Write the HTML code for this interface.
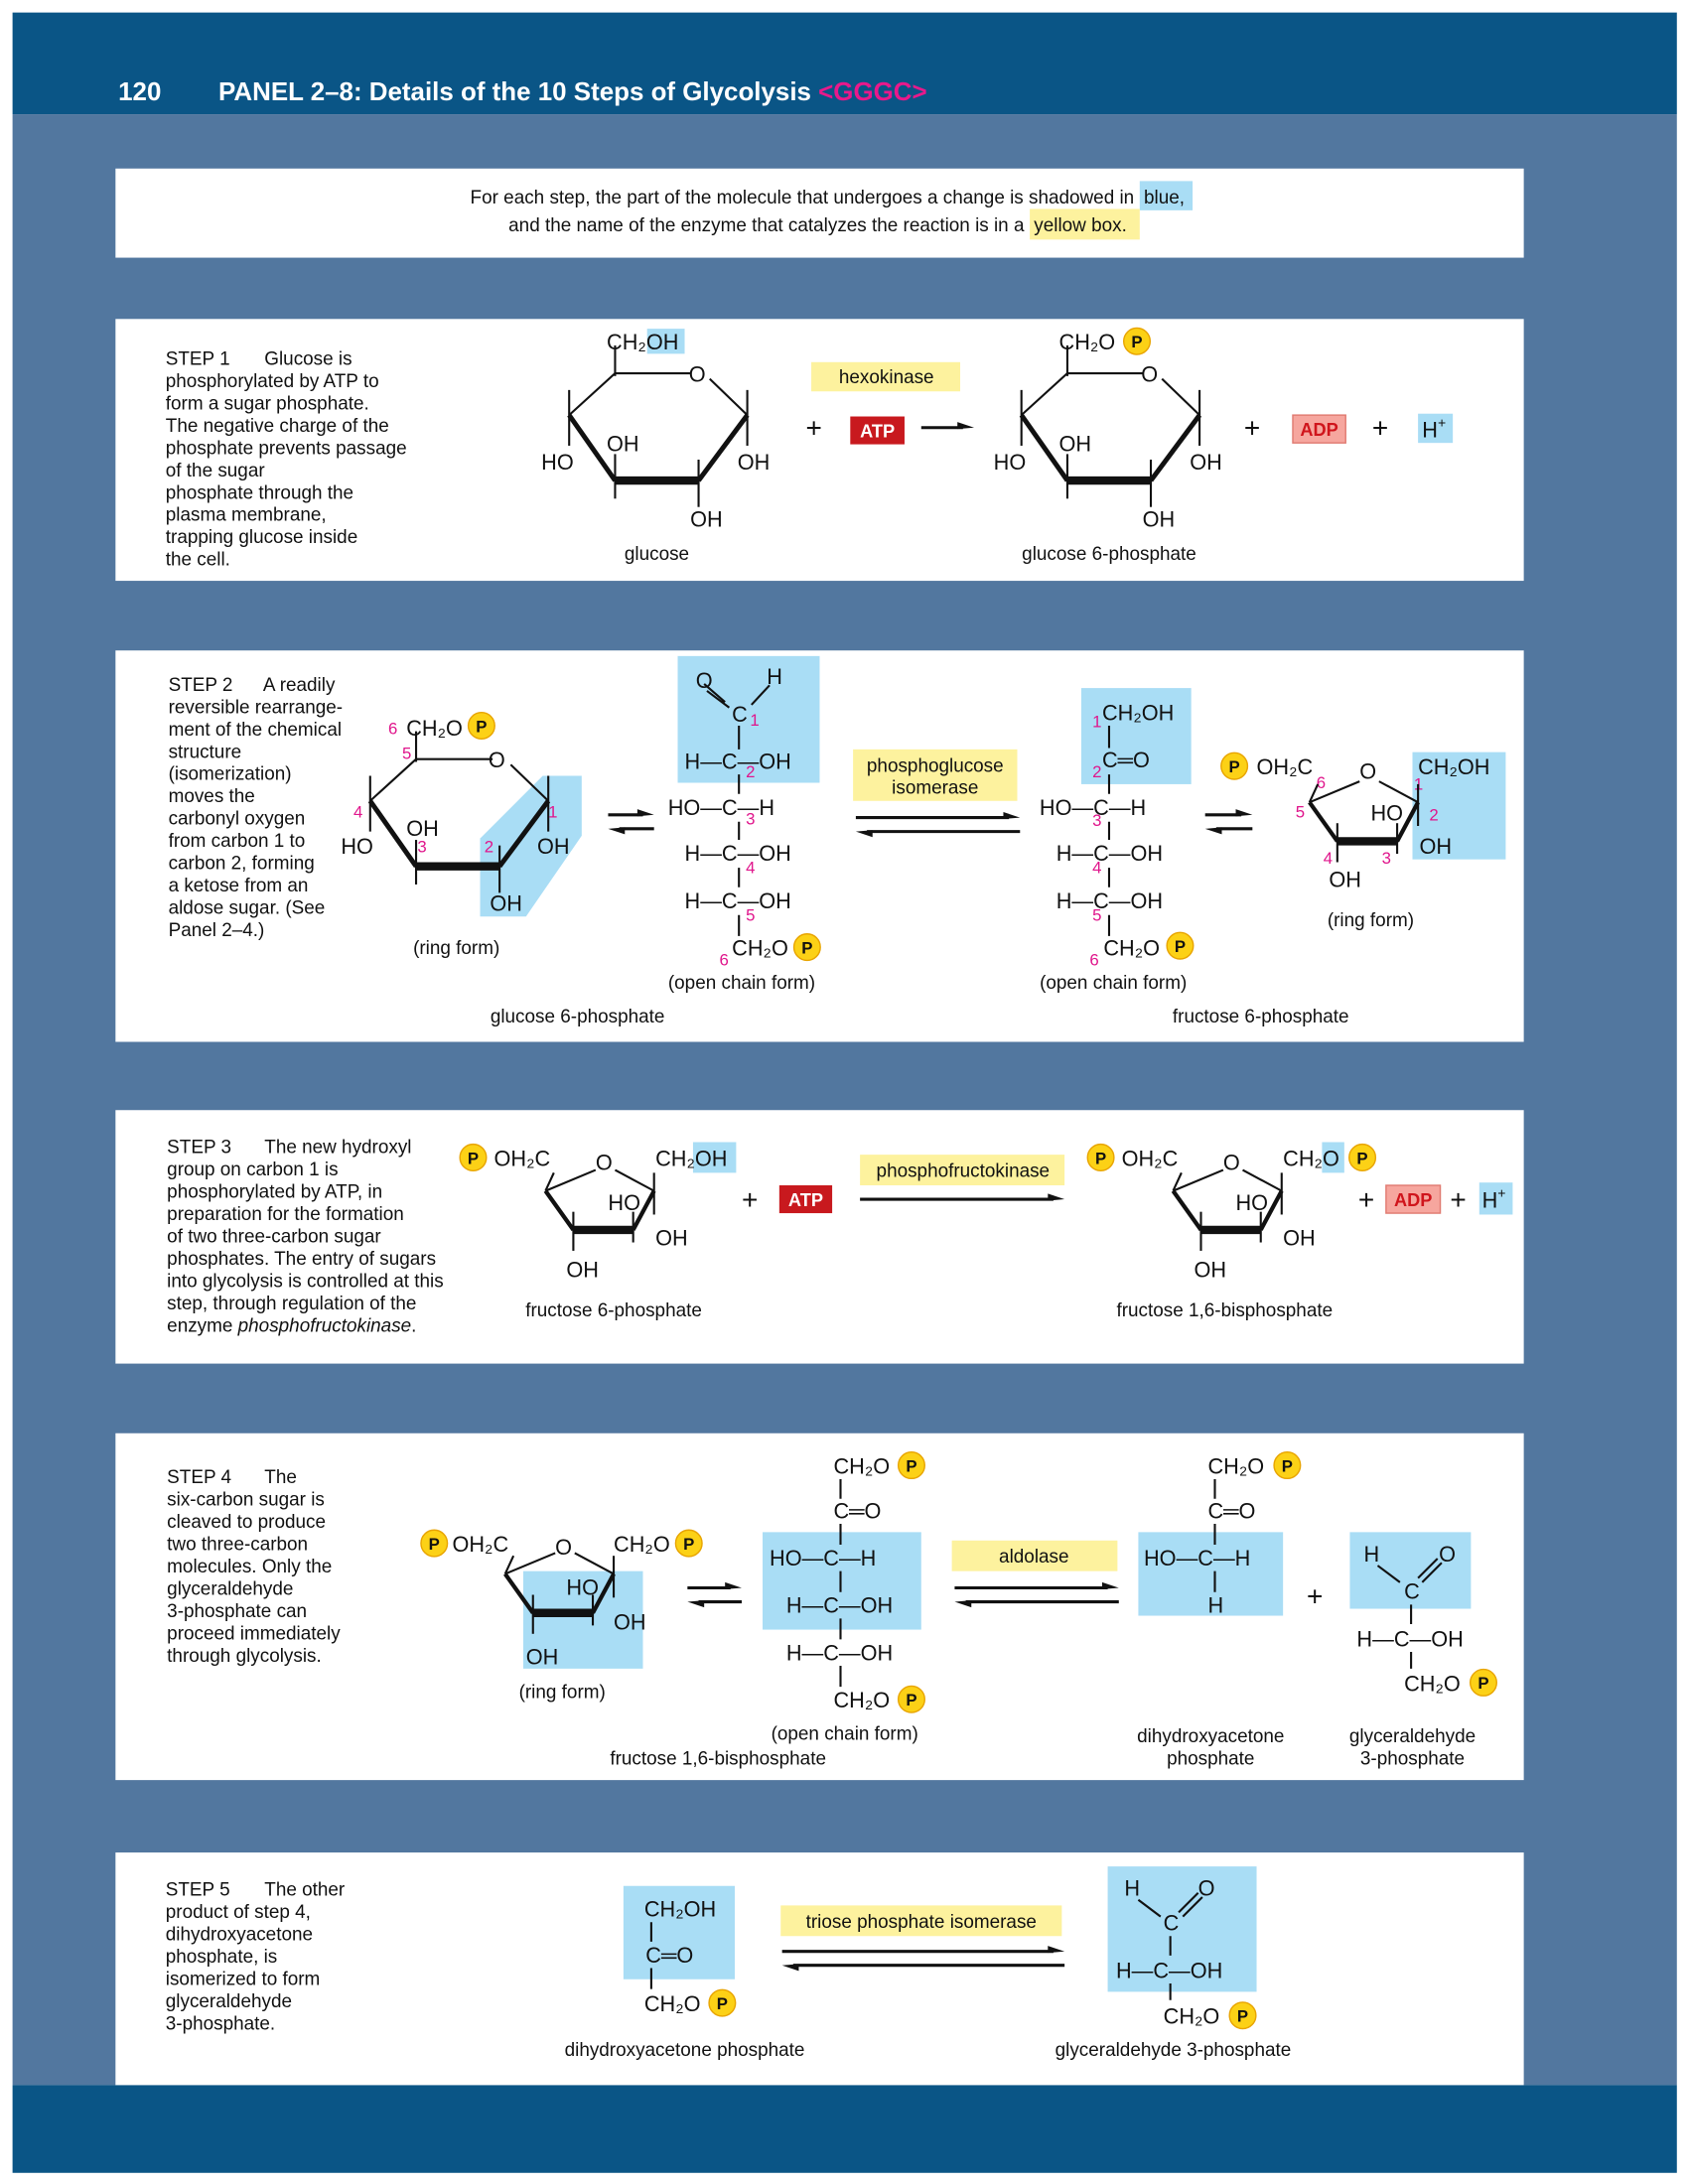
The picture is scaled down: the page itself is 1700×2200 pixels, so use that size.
<!DOCTYPE html>
<html><head><meta charset="utf-8">
<style>
html,body{margin:0;padding:0;background:#fff;}
svg{display:block;}
text{font-family:"Liberation Sans",sans-serif;}
.b{font-size:13.5px;fill:#111;}
.c{font-size:15.5px;fill:#111;}
.n{font-size:12px;fill:#e0168c;}
</style></head>
<body>
<svg id="s" width="1700" height="2200" viewBox="0 0 1213 1568" preserveAspectRatio="none" xmlns="http://www.w3.org/2000/svg">
<rect x="0" y="0" width="1213" height="1568" fill="#fff"/>
<rect x="9" y="9" width="1196" height="73" fill="#0a5586"/>
<rect x="9" y="82" width="1196" height="1415" fill="#52779f"/>
<rect x="9" y="1497" width="1196" height="63" fill="#0a5586"/>
<text x="85" y="72" font-size="18.5" font-weight="bold" fill="#fff">120</text>
<text x="157" y="72" font-size="18.5" font-weight="bold" fill="#fff">PANEL 2–8: Details of the 10 Steps of Glycolysis <tspan fill="#e8198b">&lt;GGGC&gt;</tspan></text>

<!-- intro -->
<rect x="83" y="121" width="1012" height="64" fill="#fff"/>
<rect x="819" y="130" width="38" height="21" fill="#a9ddf5"/>
<rect x="740" y="150" width="79" height="22" fill="#fdf29e"/>
<text x="815" y="146" class="b" text-anchor="end">For each step, the part of the molecule that undergoes a change is shadowed in</text>
<text x="822" y="146" class="b">blue,</text>
<text x="736" y="166" class="b" text-anchor="end">and the name of the enzyme that catalyzes the reaction is in a</text>
<text x="743" y="166" class="b">yellow box.</text>

<!-- step boxes -->
<rect x="83" y="229" width="1012" height="188" fill="#fff"/>
<rect x="83" y="467" width="1012" height="281" fill="#fff"/>
<rect x="83" y="797" width="1012" height="182" fill="#fff"/>
<rect x="83" y="1029" width="1012" height="249" fill="#fff"/>
<rect x="83" y="1330" width="1012" height="167" fill="#fff"/>

<g id="hl">
<rect x="465" y="236" width="27" height="18" fill="#a9ddf5"/>
<rect x="583" y="260" width="107" height="21" fill="#fdf29e"/>
<rect x="1019" y="297" width="25" height="21" fill="#a9ddf5"/>
<polygon points="345,658 345,602 390,557 418,557 418,600 378,658" fill="#a9ddf5"/>
<rect x="487" y="471" width="102" height="91" fill="#a9ddf5"/>
<rect x="613" y="538" width="118" height="37" fill="#fdf29e"/>
<rect x="777" y="494" width="79" height="69" fill="#a9ddf5"/>
<rect x="1015" y="540" width="67" height="77" fill="#a9ddf5"/>
<rect x="498" y="820" width="31" height="22" fill="#a9ddf5"/>
<rect x="618" y="829" width="147" height="22" fill="#fdf29e"/>
<rect x="950" y="820" width="16" height="22" fill="#a9ddf5"/>
<rect x="1063" y="849" width="24" height="23" fill="#a9ddf5"/>
<rect x="376" y="1128" width="86" height="70" fill="#a9ddf5"/>
<rect x="548" y="1100" width="114" height="70" fill="#a9ddf5"/>
<rect x="684" y="1106" width="119" height="22" fill="#fdf29e"/>
<rect x="818" y="1100" width="104" height="60" fill="#a9ddf5"/>
<rect x="970" y="1100" width="87" height="55" fill="#a9ddf5"/>
<rect x="448" y="1354" width="80" height="67" fill="#a9ddf5"/>
<rect x="561" y="1368" width="202" height="22" fill="#fdf29e"/>
<rect x="796" y="1340" width="107" height="90" fill="#a9ddf5"/>
</g>

<g><rect x="611" y="299" width="39" height="20" fill="#c8191e"/><text x="630.5" y="314" font-size="13" font-weight="bold" fill="#fff" text-anchor="middle">ATP</text></g>
<g><rect x="929" y="298" width="38" height="20" fill="#f6a69e" stroke="#e07a70"/><text x="948" y="313" font-size="13" font-weight="bold" fill="#d0151c" text-anchor="middle">ADP</text></g>
<g><rect x="560" y="851" width="38" height="20" fill="#c8191e"/><text x="579" y="866" font-size="13" font-weight="bold" fill="#fff" text-anchor="middle">ATP</text></g>
<g><rect x="996" y="851" width="39" height="20" fill="#f6a69e" stroke="#e07a70"/><text x="1015.5" y="866" font-size="13" font-weight="bold" fill="#d0151c" text-anchor="middle">ADP</text></g>

<g>
<text x="119" y="262" class="b">STEP 1<tspan x="190">Glucose is</tspan></text>
<text x="119" y="278" class="b">phosphorylated by ATP to</text>
<text x="119" y="294" class="b">form a sugar phosphate.</text>
<text x="119" y="310" class="b">The negative charge of the</text>
<text x="119" y="326" class="b">phosphate prevents passage</text>
<text x="119" y="342" class="b">of the sugar</text>
<text x="119" y="358" class="b">phosphate through the</text>
<text x="119" y="374" class="b">plasma membrane,</text>
<text x="119" y="390" class="b">trapping glucose inside</text>
<text x="119" y="406" class="b">the cell.</text>
</g>
<g>
<text x="121" y="496" class="b">STEP 2<tspan x="189">A readily</tspan></text>
<text x="121" y="512" class="b">reversible rearrange-</text>
<text x="121" y="528" class="b">ment of the chemical</text>
<text x="121" y="544" class="b">structure</text>
<text x="121" y="560" class="b">(isomerization)</text>
<text x="121" y="576" class="b">moves the</text>
<text x="121" y="592" class="b">carbonyl oxygen</text>
<text x="121" y="608" class="b">from carbon 1 to</text>
<text x="121" y="624" class="b">carbon 2, forming</text>
<text x="121" y="640" class="b">a ketose from an</text>
<text x="121" y="656" class="b">aldose sugar. (See</text>
<text x="121" y="672" class="b">Panel 2–4.)</text>
</g>
<g>
<text x="120" y="828" class="b">STEP 3<tspan x="190">The new hydroxyl</tspan></text>
<text x="120" y="844" class="b">group on carbon 1 is</text>
<text x="120" y="860" class="b">phosphorylated by ATP, in</text>
<text x="120" y="876" class="b">preparation for the formation</text>
<text x="120" y="892" class="b">of two three-carbon sugar</text>
<text x="120" y="908" class="b">phosphates. The entry of sugars</text>
<text x="120" y="924" class="b">into glycolysis is controlled at this</text>
<text x="120" y="940" class="b">step, through regulation of the</text>
<text x="120" y="956" class="b">enzyme <tspan font-style="italic">phosphofructokinase</tspan>.</text>
</g>
<g>
<text x="120" y="1065" class="b">STEP 4<tspan x="190">The</tspan></text>
<text x="120" y="1081" class="b">six-carbon sugar is</text>
<text x="120" y="1097" class="b">cleaved to produce</text>
<text x="120" y="1113" class="b">two three-carbon</text>
<text x="120" y="1129" class="b">molecules. Only the</text>
<text x="120" y="1145" class="b">glyceraldehyde</text>
<text x="120" y="1161" class="b">3-phosphate can</text>
<text x="120" y="1177" class="b">proceed immediately</text>
<text x="120" y="1193" class="b">through glycolysis.</text>
</g>
<g>
<text x="119" y="1361" class="b">STEP 5<tspan x="190">The other</tspan></text>
<text x="119" y="1377" class="b">product of step 4,</text>
<text x="119" y="1393" class="b">dihydroxyacetone</text>
<text x="119" y="1409" class="b">phosphate, is</text>
<text x="119" y="1425" class="b">isomerized to form</text>
<text x="119" y="1441" class="b">glyceraldehyde</text>
<text x="119" y="1457" class="b">3-phosphate.</text>
</g>

<g text-anchor="middle">
<text x="637" y="275" class="b" text-anchor="middle">hexokinase</text>
<text x="672" y="554" class="b" text-anchor="middle">phosphoglucose</text>
<text x="672" y="570" class="b" text-anchor="middle">isomerase</text>
<text x="692" y="845" class="b" text-anchor="middle">phosphofructokinase</text>
<text x="743" y="1122" class="b" text-anchor="middle">aldolase</text>
<text x="662" y="1384" class="b" text-anchor="middle">triose phosphate isomerase</text>
<text x="472" y="402" class="b" text-anchor="middle">glucose</text>
<text x="797" y="402" class="b" text-anchor="middle">glucose 6-phosphate</text>
<text x="328" y="685" class="b" text-anchor="middle">(ring form)</text>
<text x="533" y="710" class="b" text-anchor="middle">(open chain form)</text>
<text x="800" y="710" class="b" text-anchor="middle">(open chain form)</text>
<text x="985" y="665" class="b" text-anchor="middle">(ring form)</text>
<text x="415" y="734" class="b" text-anchor="middle">glucose 6-phosphate</text>
<text x="906" y="734" class="b" text-anchor="middle">fructose 6-phosphate</text>
<text x="441" y="945" class="b" text-anchor="middle">fructose 6-phosphate</text>
<text x="880" y="945" class="b" text-anchor="middle">fructose 1,6-bisphosphate</text>
<text x="404" y="1219" class="b" text-anchor="middle">(ring form)</text>
<text x="607" y="1249" class="b" text-anchor="middle">(open chain form)</text>
<text x="516" y="1267" class="b" text-anchor="middle">fructose 1,6-bisphosphate</text>
<text x="870" y="1251" class="b" text-anchor="middle">dihydroxyacetone</text>
<text x="870" y="1267" class="b" text-anchor="middle">phosphate</text>
<text x="1015" y="1251" class="b" text-anchor="middle">glyceraldehyde</text>
<text x="1015" y="1267" class="b" text-anchor="middle">3-phosphate</text>
<text x="492" y="1476" class="b" text-anchor="middle">dihydroxyacetone phosphate</text>
<text x="843" y="1476" class="b" text-anchor="middle">glyceraldehyde 3-phosphate</text>
</g>

<g font-size="20" fill="#111">
<text x="579" y="314">+</text><text x="894" y="314">+</text><text x="986" y="314">+</text>
<text x="533" y="868">+</text><text x="976" y="868">+</text><text x="1042" y="868">+</text>
<text x="939" y="1153">+</text>
</g>
<g>
<text x="1022" y="314" class="c">H<tspan font-size="10" dy="-7">+</tspan></text>
<text x="1065" y="867" class="c">H<tspan font-size="10" dy="-7">+</tspan></text>
</g>

<g id="chem">
<text x="436" y="251" class="c">CH₂OH</text>
<text x="495" y="274" class="c">O</text>
<text x="389" y="337" class="c">HO</text>
<text x="436" y="324" class="c">OH</text>
<text x="530" y="337" class="c">OH</text>
<text x="496" y="378" class="c">OH</text>
<text x="761" y="251" class="c">CH₂O</text>
<text x="820" y="274" class="c">O</text>
<text x="714" y="337" class="c">HO</text>
<text x="761" y="324" class="c">OH</text>
<text x="855" y="337" class="c">OH</text>
<text x="821" y="378" class="c">OH</text>
<text x="292" y="528" class="c">CH₂O</text>
<text x="351" y="551" class="c">O</text>
<text x="245" y="613" class="c">HO</text>
<text x="292" y="600" class="c">OH</text>
<text x="386" y="613" class="c">OH</text>
<text x="352" y="654" class="c">OH</text>
<text x="279" y="527" class="n">6</text><text x="289" y="545" class="n">5</text><text x="254" y="587" class="n">4</text><text x="300" y="612" class="n">3</text><text x="348" y="612" class="n">2</text><text x="394" y="587" class="n">1</text>
<text x="500" y="494" class="c">O</text><text x="551" y="491" class="c">H</text>
<text x="526" y="518" class="c">C</text>
<text x="492" y="552" class="c">H—C—OH</text>
<text x="480" y="585" class="c">HO—C—H</text>
<text x="492" y="618" class="c">H—C—OH</text>
<text x="492" y="652" class="c">H—C—OH</text>
<text x="526" y="686" class="c">CH₂O</text>
<text x="539" y="521" class="n">1</text><text x="536" y="558" class="n">2</text><text x="536" y="592" class="n">3</text><text x="536" y="627" class="n">4</text><text x="536" y="661" class="n">5</text><text x="517" y="693" class="n">6</text>
<text x="792" y="517" class="c">CH₂OH</text>
<text x="792" y="551" class="c">C═O</text>
<text x="747" y="585" class="c">HO—C—H</text>
<text x="759" y="618" class="c">H—C—OH</text>
<text x="759" y="652" class="c">H—C—OH</text>
<text x="793" y="686" class="c">CH₂O</text>
<text x="785" y="522" class="n">1</text><text x="785" y="558" class="n">2</text><text x="785" y="593" class="n">3</text><text x="785" y="627" class="n">4</text><text x="785" y="661" class="n">5</text><text x="783" y="693" class="n">6</text>
<text x="903" y="556" class="c">OH₂C</text>
<text x="977" y="559" class="c">O</text>
<text x="1019" y="556" class="c">CH₂OH</text>
<text x="985" y="589" class="c">HO</text>
<text x="1020" y="613" class="c">OH</text>
<text x="955" y="637" class="c">OH</text>
<text x="946" y="566" class="n">6</text><text x="931" y="587" class="n">5</text><text x="951" y="620" class="n">4</text><text x="993" y="620" class="n">3</text><text x="1027" y="589" class="n">2</text><text x="1016" y="567" class="n">1</text>
<text x="355" y="837" class="c">OH₂C</text>
<text x="428" y="840" class="c">O</text>
<text x="471" y="837" class="c">CH₂OH</text>
<text x="437" y="869" class="c">HO</text>
<text x="471" y="894" class="c">OH</text>
<text x="407" y="917" class="c">OH</text>
<text x="806" y="837" class="c">OH₂C</text>
<text x="879" y="840" class="c">O</text>
<text x="922" y="837" class="c">CH₂O</text>
<text x="888" y="869" class="c">HO</text>
<text x="922" y="894" class="c">OH</text>
<text x="858" y="917" class="c">OH</text>
<text x="325" y="1114" class="c">OH₂C</text>
<text x="399" y="1116" class="c">O</text>
<text x="441" y="1114" class="c">CH₂O</text>
<text x="407" y="1145" class="c">HO</text>
<text x="441" y="1170" class="c">OH</text>
<text x="378" y="1195" class="c">OH</text>
<text x="599" y="1058" class="c">CH₂O</text>
<text x="599" y="1090" class="c">C═O</text>
<text x="553" y="1124" class="c">HO—C—H</text>
<text x="565" y="1158" class="c">H—C—OH</text>
<text x="565" y="1192" class="c">H—C—OH</text>
<text x="599" y="1226" class="c">CH₂O</text>
<text x="868" y="1058" class="c">CH₂O</text>
<text x="868" y="1090" class="c">C═O</text>
<text x="822" y="1124" class="c">HO—C—H</text>
<text x="868" y="1158" class="c">H</text>
<text x="980" y="1121" class="c">H</text><text x="1034" y="1121" class="c">O</text>
<text x="1009" y="1148" class="c">C</text>
<text x="975" y="1182" class="c">H—C—OH</text>
<text x="1009" y="1214" class="c">CH₂O</text>
<text x="463" y="1376" class="c">CH₂OH</text>
<text x="464" y="1409" class="c">C═O</text>
<text x="463" y="1444" class="c">CH₂O</text>
<text x="808" y="1361" class="c">H</text><text x="861" y="1361" class="c">O</text>
<text x="836" y="1386" class="c">C</text>
<text x="802" y="1420" class="c">H—C—OH</text>
<text x="836" y="1453" class="c">CH₂O</text>
</g>
<g id="bonds" stroke="#111" stroke-width="1.5" fill="none">
<path d="M531,521V538M531,556V570M531,590V603M531,623V637M531,657V672"/>
<path d="M508,496L524,508M540,506L553,492M506,491L521,504"/>
<path d="M797,521V537M797,556V570M797,590V603M797,623V637M797,657V672"/>
<path d="M604,1062V1076M604,1094V1109M604,1128V1143M604,1162V1177M604,1196V1211"/>
<path d="M873,1062V1076M873,1094V1109M873,1128V1143"/>
<path d="M990,1124L1006,1136M1022,1136L1036,1122M1019,1133L1033,1119M1014,1152V1166M1014,1186V1198"/>
<path d="M468,1380V1394M468,1413V1428"/>
<path d="M818,1364L834,1376M850,1376L864,1362M847,1373L861,1359M841,1390V1404M841,1424V1436"/>
</g>
<g id="dyn"></g>
</svg>
<script>
var NS="http://www.w3.org/2000/svg";
var dyn=document.getElementById('dyn');
function mk(tag,attrs){var e=document.createElementNS(NS,tag);for(var k in attrs)e.setAttribute(k,attrs[k]);dyn.appendChild(e);return e;}
function ln(x1,y1,x2,y2,w){var e=mk('line',{x1:x1,y1:y1,x2:x2,y2:y2,stroke:'#111','stroke-width':w||1.5,'stroke-linecap':'butt'});

return e;}
function P(x,y){var c=mk('circle',{cx:x,cy:y,r:9.5,fill:'#fcd116',stroke:'#e8a400','stroke-width':1});


var t=mk('text',{x:x,y:y+4.5,'text-anchor':'middle','font-size':12,'font-weight':'bold',fill:'#111'});


t.textContent='P';}
function pyr(ox,oy){
ln(ox,oy-20,ox,oy+2);ln(ox,oy,ox+55,oy);ln(ox+68,oy+4,ox+95,oy+30);
ln(ox-33,oy+30,ox,oy);ln(ox+95,oy+30,ox+60,oy+77,3.5);ln(ox+60,oy+77,ox,oy+77,6);ln(ox,oy+77,ox-33,oy+30,3.5);
ln(ox-33,oy+12,ox-33,oy+52);ln(ox+95,oy+12,ox+95,oy+52);ln(ox,oy+58,ox,oy+90);ln(ox+60,oy+62,ox+60,oy+96);}
function fur(ox,oy){
ln(ox-42,oy+15,ox-6,oy);ln(ox+8,oy,ox+36,oy+15);ln(ox+36,oy+15,ox+21,oy+43,3);ln(ox+21,oy+43,ox-22,oy+43,6);ln(ox-22,oy+43,ox-42,oy+15,3);
ln(ox-42,oy+15,ox-36,oy+2);ln(ox+36,oy+2,ox+36,oy+32);ln(ox+21,oy+30,ox+21,oy+52);ln(ox-22,oy+30,ox-22,oy+58);}
function arr(x1,x2,y,dir){var w=2.2;if(dir>0){ln(x1,y,x2-8,y,w);mk('polygon',{points:(x2)+','+y+' '+(x2-12)+','+(y-4)+' '+(x2-12)+','+(y+1),fill:'#111'});}
else{ln(x1+8,y,x2,y,w);mk('polygon',{points:x1+','+y+' '+(x1+12)+','+(y-1)+' '+(x1+12)+','+(y+4),fill:'#111'});}}
function eq(x1,x2,y){arr(x1,x2,y,1);arr(x1,x2,y+10,-1);}
pyr(442,268);pyr(767,268);pyr(299,545);
fur(983,561);fur(434,840);fur(885,840);fur(405,1115);
arr(662,700,307,1);arr(618,765,861,1);
eq(437,470,585);eq(615,733,587);eq(866,900,585);eq(494,533,1140);eq(686,804,1140);eq(562,765,1401);
P(817,245);P(346,521);P(580,680);P(848,679);P(887,550);P(340,831);P(979,831);P(791,831);
P(312,1108);P(495,1108);P(655,1052);P(655,1220);P(925,1052);P(1066,1208);P(519,1438);P(893,1447);
</script>
</body></html>
